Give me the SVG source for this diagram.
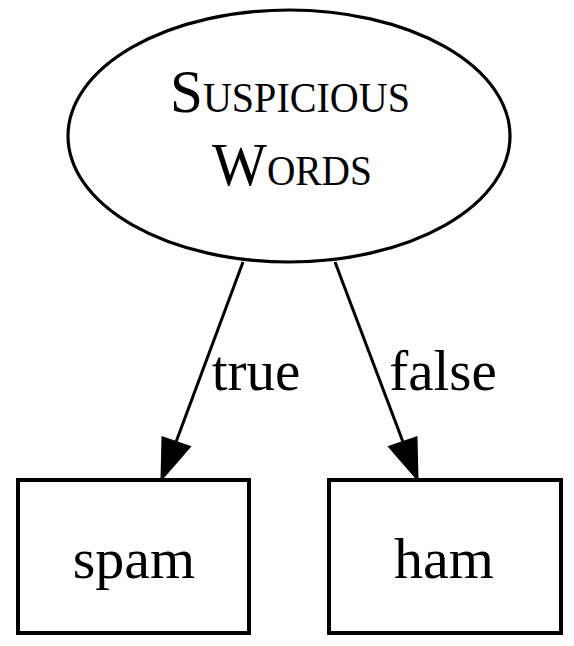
<svg xmlns="http://www.w3.org/2000/svg" width="574" height="646" viewBox="0 0 574 646">
<style>
.node{fill:#fff;stroke:#000}
.t{font-family:"Liberation Serif","Times New Roman",serif;fill:#000;text-anchor:middle}
.edge{stroke:#000;stroke-width:3;fill:none}
.head{fill:#000;stroke:#000;stroke-width:3;stroke-linejoin:miter}
</style>
<rect width="574" height="646" fill="#fff"/>
<g id="suspicious">
<ellipse class="node" cx="289" cy="136" rx="221" ry="126" stroke-width="3.2"/>
<text class="t" x="290" y="112" font-size="62" textLength="240" lengthAdjust="spacingAndGlyphs">S<tspan font-size="42">USPICIOUS</tspan></text>
<text class="t" x="292" y="185" font-size="62" textLength="160" lengthAdjust="spacingAndGlyphs">W<tspan font-size="42">ORDS</tspan></text>
</g>
<g id="spam">
<rect class="node" x="18" y="480" width="231" height="153" stroke-width="4"/>
<text class="t" x="134" y="578" font-size="58">spam</text>
</g>
<g id="ham">
<rect class="node" x="329" y="480" width="232" height="153" stroke-width="4"/>
<text class="t" x="444" y="578" font-size="58">ham</text>
</g>
<g id="connectors">
<path class="edge" d="M243,262 L176,442"/>
<polygon class="head" points="162,478 189,447 163,438"/>
<text class="t" x="256" y="390" font-size="57">true</text>
<path class="edge" d="M335,262 L403,442"/>
<polygon class="head" points="417,478 416,438 390,447"/>
<text class="t" x="443" y="390" font-size="57">false</text>
</g>
</svg>
